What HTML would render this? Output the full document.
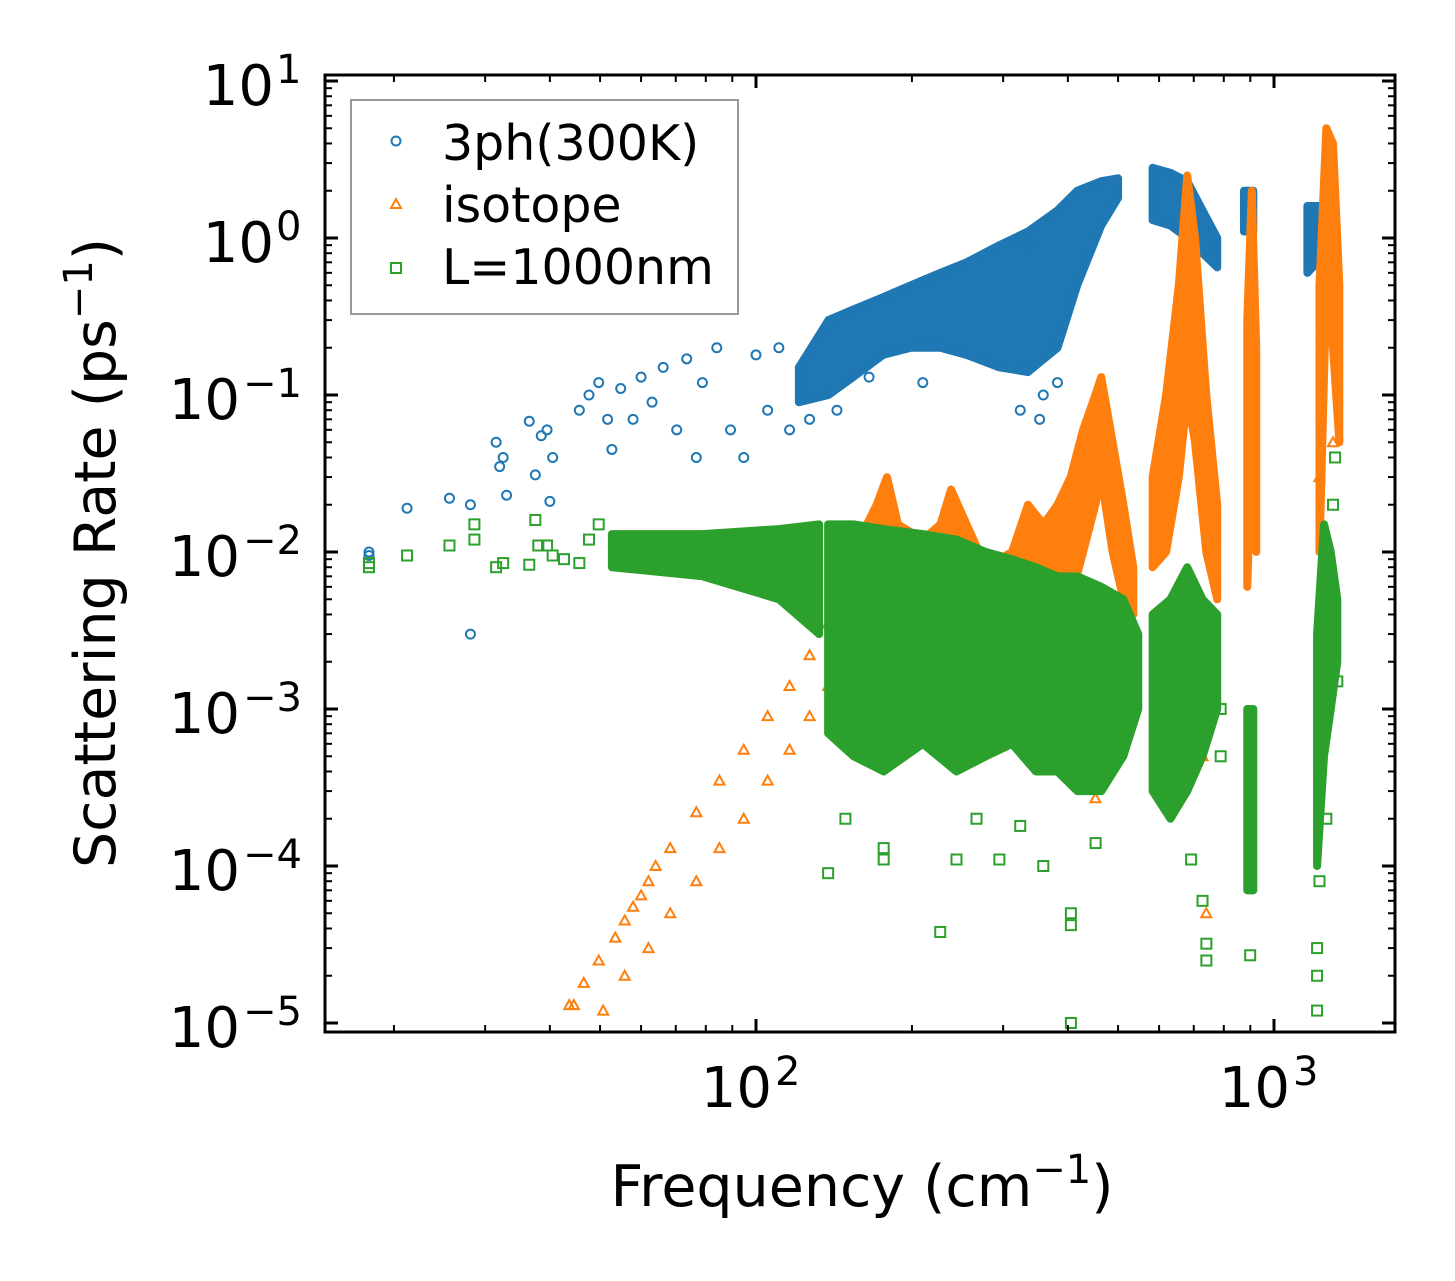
<!DOCTYPE html>
<html><head><meta charset="utf-8">
<style>
html,body{margin:0;padding:0;background:#fff;}
svg{display:block;font-family:"DejaVu Sans","Liberation Sans",sans-serif;}
</style></head>
<body>
<svg id="chart" width="1455" height="1281" viewBox="0 0 1455 1281" xmlns="http://www.w3.org/2000/svg">
<rect x="0" y="0" width="1455" height="1281" fill="#fff"/>
<g id="plot"></g>
<g id="axes"></g>
<text x="862" y="1206" text-anchor="middle" font-size="57">Frequency (cm<tspan dy="-23" font-size="40">−1</tspan><tspan dy="23">)</tspan></text>
<text transform="translate(115,553) rotate(-90)" text-anchor="middle" font-size="57">Scattering Rate (ps<tspan dy="-23" font-size="40">−1</tspan><tspan dy="23">)</tspan></text>
<g>
<rect x="351" y="100" width="387" height="214" fill="#fff" stroke="#999" stroke-width="2"/>
<circle cx="396" cy="141" r="4.5" fill="none" stroke="#1f77b4" stroke-width="2"/>
<text x="442" y="160" font-size="49">3ph(300K)</text>
<polygon points="396,199 401,208 391,208" fill="none" stroke="#ff7f0e" stroke-width="2"/>
<text x="442" y="222" font-size="49">isotope</text>
<rect x="391" y="263" width="10" height="10" fill="none" stroke="#2ca02c" stroke-width="2"/>
<text x="442" y="284" font-size="49">L=1000nm</text>
</g>
</svg>
<script>
// ---- data ----
const blueBands = [
 [[121,0.09,0.15],[138,0.1,0.3],[154,0.13,0.35],[176,0.18,0.42],[199,0.2,0.5],[227,0.2,0.6],[255,0.18,0.7],[295,0.15,0.9],[335,0.14,1.1],[382,0.2,1.5],[417,0.5,2.0],[464,1.2,2.3],[500,1.8,2.4]],
 [[583,1.3,2.8],[631,1.2,2.6],[680,1.0,2.3],[728,0.8,1.5],[777,0.65,1.0]],
 [[875,1.1,2.0],[912,1.1,2.0]],
 [[1160,0.6,1.6],[1262,0.8,1.6]]
];
const blueFreq = [17.9,17.9,21.2,25.6,28.1,28.1,31.5,32,32.5,33,36.5,37.5,38.5,39.5,40,40.5,45.6,47.6,49.7,51.7,52.7,54.8,57.9,60,63,66.2,70.3,73.5,76.7,78.8,84,89.3,94.7,100,105.3,110.7,116.1,126.9,143.3,165.3,209.9,323.7,352.8,358.6,381.9,335.5,312];
const blueRate = [0.01,0.0095,0.019,0.022,0.02,0.003,0.05,0.035,0.04,0.023,0.068,0.031,0.055,0.06,0.021,0.04,0.08,0.1,0.12,0.07,0.045,0.11,0.07,0.13,0.09,0.15,0.06,0.17,0.04,0.12,0.2,0.06,0.04,0.18,0.08,0.2,0.06,0.07,0.08,0.13,0.12,0.08,0.07,0.1,0.12,0.9,0.95];
const orangeBands = [
 [[138,0.002,0.006],[154,0.003,0.01],[171,0.004,0.02],[179,0.005,0.03],[188,0.004,0.015],[210,0.004,0.012],[227,0.004,0.015],[238,0.005,0.025],[255,0.005,0.015],[278,0.003,0.008],[312,0.003,0.01],[335,0.004,0.02],[359,0.005,0.015],[382,0.004,0.02],[405,0.005,0.03],[428,0.01,0.06],[452,0.02,0.1],[464,0.03,0.13],[488,0.01,0.05],[512,0.005,0.02],[535,0.004,0.008]],
 [[583,0.008,0.03],[619,0.01,0.1],[655,0.03,0.5],[680,0.1,2.5],[704,0.05,1.0],[740,0.01,0.1],[777,0.005,0.02]],
 [[888,0.006,0.3],[906,0.05,2.0],[924,0.01,0.2]],
 [[1224,0.01,0.5],[1262,0.5,5.0],[1300,0.2,4.0],[1337,0.05,0.5]]
];
const orangeFreq = [43.6,49.7,55.8,62,68.3,76.7,85,94.7,105.3,116.1,126.9,137.8,50.7,55.8,62,68.3,76.7,85,94.7,105.3,116.1,126.9,137.8,704,728,740,452,1224,1249,1300,1249,44.5,46.5,53.5,57.9,60,64];
const orangeRate = [1.3e-5,2.5e-5,4.5e-5,8e-5,1.3e-4,2.2e-4,3.5e-4,5.5e-4,9e-4,1.4e-3,2.2e-3,3.5e-3,1.2e-5,2e-5,3e-5,5e-5,8e-5,1.3e-4,2e-4,3.5e-4,5.5e-4,9e-4,1.4e-3,7e-4,5e-4,5e-5,2.7e-4,0.03,0.55,0.05,0.25,1.3e-5,1.8e-5,3.5e-5,5.5e-5,6.5e-5,1e-4];
const greenBands = [
 [[52.7,0.008,0.013],[78.8,0.007,0.013],[110.7,0.005,0.014],[132.4,0.003,0.015]],
 [[137.8,0.0007,0.015],[154.3,0.0005,0.015],[176.4,0.0004,0.014],[209.9,0.0006,0.013],[243.8,0.0004,0.012],[277.9,0.0005,0.01],[312,0.0006,0.009],[347,0.0004,0.008],[381.9,0.0004,0.007],[417,0.0003,0.007],[464.3,0.0003,0.006],[511.7,0.0005,0.005],[547,0.001,0.003]],
 [[583,0.0003,0.004],[631,0.0002,0.005],[680,0.0003,0.008],[728,0.0005,0.005],[777,0.001,0.004]],
 [[888,0.00007,0.001],[912,0.00007,0.001]],
 [[1211,0.0001,0.003],[1249,0.0005,0.015],[1287,0.001,0.01],[1325,0.002,0.005]]
];
const greenFreq = [17.9,17.9,21.2,25.6,28.6,28.6,31.5,32.5,36.5,37.5,38,39.5,40.5,42.6,45.6,47.6,49.7,137.8,148.8,176.4,176.4,226.8,243.8,266.5,295,323.7,358.6,405.4,405.4,405.4,452.5,494,691.7,727.8,740.4,740.4,788.9,788.9,899.5,1211,1211,1211,1224,1262,1325,1300,1312];
const greenRate = [0.008,0.0085,0.0095,0.011,0.015,0.012,0.008,0.0085,0.0083,0.016,0.011,0.011,0.0095,0.009,0.0085,0.012,0.015,9e-5,0.0002,0.00013,0.00011,3.8e-5,0.00011,0.0002,0.00011,0.00018,0.0001,5e-5,4.2e-5,1e-5,0.00014,0.00053,0.00011,6e-5,3.2e-5,2.5e-5,0.0005,0.001,2.7e-5,3e-5,2e-5,1.2e-5,8e-5,0.0002,0.0015,0.02,0.04];
const xTickVals = [100,1000];
const xTickExp = ["2","3"];
const yTickVals = [1e1,1e0,1e-1,1e-2,1e-3,1e-4,1e-5];
const yTickExp = ["1","0","−1","−2","−3","−4","−5"];

// ---- axes functions ----
const L=325,R=1395,T=75,B=1032;
const sx = f => 756 + (Math.log10(f)-2)*518;
const sy = v => 238 - Math.log10(v)*157;
const NS="http://www.w3.org/2000/svg";
const plot=document.getElementById('plot'), axes=document.getElementById('axes');
function mk(tag, attrs, parent){const e=document.createElementNS(NS,tag);for(const k in attrs)e.setAttribute(k,attrs[k]);parent.appendChild(e);return e;}

function drawBands(bands,color,name){
  bands.forEach((b,i)=>{
    const top=b.map(p=>sx(p[0])+','+sy(p[2]));
    const bot=b.slice().reverse().map(p=>sx(p[0])+','+sy(p[1]));
    const e=mk('polygon',{points:top.concat(bot).join(' '),fill:color,stroke:color,'stroke-width':8,'stroke-linejoin':'round'},plot);
    
    
  });
}
function drawPoints(fs,vs,kind,color,name){
  fs.forEach((f,i)=>{
    const x=sx(f),y=sy(vs[i]);let e;
    if(kind==='c') e=mk('circle',{cx:x,cy:y,r:4.5,fill:'none',stroke:color,'stroke-width':2},plot);
    else if(kind==='t') e=mk('polygon',{points:`${x},${y-5} ${x+5},${y+4} ${x-5},${y+4}`,fill:'none',stroke:color,'stroke-width':2},plot);
    else e=mk('rect',{x:x-5,y:y-5,width:10,height:10,fill:'none',stroke:color,'stroke-width':2},plot);
    
    
  });
}
drawBands(blueBands,'#1f77b4','3ph');
drawPoints(blueFreq,blueRate,'c','#1f77b4','3ph');
drawBands(orangeBands,'#ff7f0e','isotope');
drawPoints(orangeFreq,orangeRate,'t','#ff7f0e','isotope');
drawBands(greenBands,'#2ca02c','l1000nm');
drawPoints(greenFreq,greenRate,'s','#2ca02c','l1000nm');

// frame
const fr=mk('rect',{x:L,y:T,width:R-L,height:B-T,fill:'none',stroke:'#000','stroke-width':3},axes);


// x ticks
for(let d=10;d<=1000;d*=10){for(let m=1;m<10;m++){const f=d*m;const x=sx(f);if(x<L||x>R)continue;const len=m===1?13:7;
  mk('line',{x1:x,y1:B,x2:x,y2:B-len,stroke:'#000','stroke-width':m===1?3:2},axes);
  mk('line',{x1:x,y1:T,x2:x,y2:T+len,stroke:'#000','stroke-width':m===1?3:2},axes);}}
xTickVals.forEach((v,i)=>{
  const t=mk('text',{x:sx(v)+16,y:1107,'text-anchor':'end','font-size':56},axes);t.textContent='10';
  
  
  const s=mk('text',{x:sx(v)+19,y:1085,'font-size':40},axes);s.textContent=xTickExp[i];
  
  });
// y ticks
for(let d=1e-5;d<=10;d*=10){for(let m=1;m<10;m++){const v=d*m;const y=sy(v);if(y<T||y>B)continue;const len=m===1?13:7;
  mk('line',{x1:L,y1:y,x2:L+len,y2:y,stroke:'#000','stroke-width':m===1?3:2},axes);
  mk('line',{x1:R,y1:y,x2:R-len,y2:y,stroke:'#000','stroke-width':m===1?3:2},axes);}}
yTickVals.forEach((v,i)=>{
  const neg=yTickExp[i].length>1;
  const ex=neg?243:276;
  const t=mk('text',{x:neg?ex-3:274,y:sy(v)+24,'text-anchor':'end','font-size':56},axes);t.textContent='10';
  
  
  const s=mk('text',{x:ex,y:sy(v)+2,'font-size':40},axes);s.textContent=yTickExp[i];
  
  });
</script>
</body></html>
